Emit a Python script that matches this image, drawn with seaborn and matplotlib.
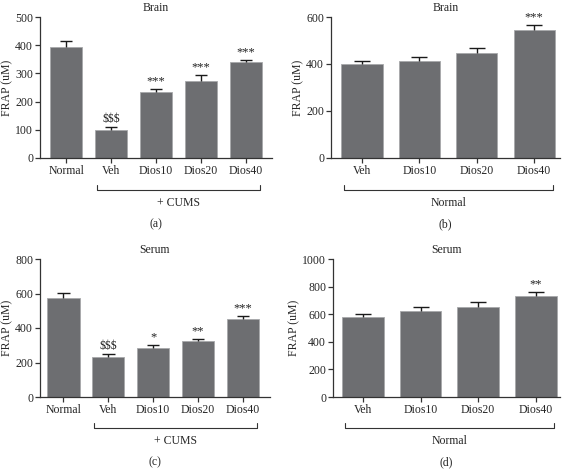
"""
FRAP levels in brain and serum (four panels)
"""

import numpy as np
import pandas as pd
import matplotlib
matplotlib.use("Agg")
import matplotlib.pyplot as plt
import matplotlib.transforms as mtransforms
import seaborn as sns

# ---- data ----
cums_groups = ["Normal", "Veh", "Dios10", "Dios20", "Dios40"]
normal_groups = ["Veh", "Dios10", "Dios20", "Dios40"]

brain_cums_mean = [395, 100, 234, 273, 340]
brain_cums_err = [19, 10, 9, 20, 7]
brain_cums_marks = ["", "$$$", "***", "***", "***"]

brain_normal_mean = [398, 411, 446, 545]
brain_normal_err = [14, 17, 21, 19]
brain_normal_marks = ["", "", "", "***"]

serum_cums_mean = [573, 234, 286, 322, 454]
serum_cums_err = [32, 15, 16, 16, 13]
serum_cums_marks = ["", "$$$", "*", "**", "***"]

serum_normal_mean = [579, 622, 651, 729]
serum_normal_err = [23, 30, 37, 29]
serum_normal_marks = ["", "", "", "**"]

sns.set_theme(style="ticks")
plt.rcParams['font.family'] = ['Liberation Serif', 'DejaVu Serif']
plt.rcParams['font.size'] = 8.5

BAR = "#6d6e71"
W, H = 564, 471


def px_axes(fig, left, right, top, bottom):
    """Add axes from pixel box (origin top-left)."""
    return fig.add_axes([left / W, 1 - bottom / H, (right - left) / W, (bottom - top) / H])


def draw_panel(ax, groups, means, errs, marks, ymax, ystep, xlim, title,
               bracket_label, bracket_from, letter):
    df = pd.DataFrame({"group": groups, "frap": means})
    sns.barplot(data=df, x="group", y="frap", color=BAR, width=0.72,
                edgecolor="#a7a8aa", linewidth=0.6, saturation=1, ax=ax,
                errorbar=None)
    # upper-only error bars (SEM), cap on top
    x = np.arange(len(groups))
    tops = np.array(means) + np.array(errs)
    ax.vlines(x, means, tops, color="#1a1a1a", lw=1.0)
    ax.hlines(tops, x - 0.14, x + 0.14, color="#1a1a1a", lw=1.0)
    for xi, t, s in zip(x, tops, marks):
        if s:
            txt = s.replace("$", r"\$")
            ax.text(xi, t + ymax * 0.012, txt, ha="center", va="bottom",
                    fontsize=8.5 if "$" in s else 9, color="#222222")

    ax.set_ylim(0, ymax)
    ax.set_yticks(np.arange(0, ymax + 1, ystep))
    ax.set_xlim(*xlim)
    ax.set_xlabel("")
    ax.set_ylabel("FRAP (uM)", fontsize=8.5, labelpad=1)
    ax.set_title(title, fontsize=8.5, pad=4)
    sns.despine(ax=ax)
    for sp in ["left", "bottom"]:
        ax.spines[sp].set_linewidth(0.9)
        ax.spines[sp].set_color("#333333")
    ax.tick_params(axis="both", length=3.5, width=0.9, color="#333333",
                   labelsize=8.5, pad=1.5)

    # group bracket under the x labels
    trans = mtransforms.blended_transform_factory(ax.transData, ax.transAxes)
    x0, x1 = bracket_from - 0.32, len(groups) - 1 + 0.32
    yb, tick = -0.225, 0.035
    ax.plot([x0, x0, x1, x1], [yb + tick, yb, yb, yb + tick], color="#333333",
            lw=0.8, transform=trans, clip_on=False)
    ax.text((x0 + x1) / 2, yb - 0.05, bracket_label, transform=trans,
            ha="center", va="top", fontsize=8.5)
    ax.text(0.5, -0.43, letter, transform=ax.transAxes, ha="center",
            va="top", fontsize=8.5)


fig = plt.figure(figsize=(W / 100, H / 100), dpi=100)

ax_a = px_axes(fig, 40, 272, 17, 158)
draw_panel(ax_a, cums_groups, brain_cums_mean, brain_cums_err, brain_cums_marks,
           500, 100, (-0.58, 4.58), "Brain", "+ CUMS", 1, "(a)")

ax_b = px_axes(fig, 331, 560, 17, 158)
draw_panel(ax_b, normal_groups, brain_normal_mean, brain_normal_err,
           brain_normal_marks, 600, 200, (-0.54, 3.45), "Brain", "Normal", 0, "(b)")

ax_c = px_axes(fig, 40, 270, 259, 397)
draw_panel(ax_c, cums_groups, serum_cums_mean, serum_cums_err, serum_cums_marks,
           800, 200, (-0.52, 4.6), "Serum", "+ CUMS", 1, "(c)")

ax_d = px_axes(fig, 333, 560, 259, 397)
draw_panel(ax_d, normal_groups, serum_normal_mean, serum_normal_err,
           serum_normal_marks, 1000, 200, (-0.52, 3.42), "Serum", "Normal", 0, "(d)")

fig.savefig("out.png", dpi=100)
